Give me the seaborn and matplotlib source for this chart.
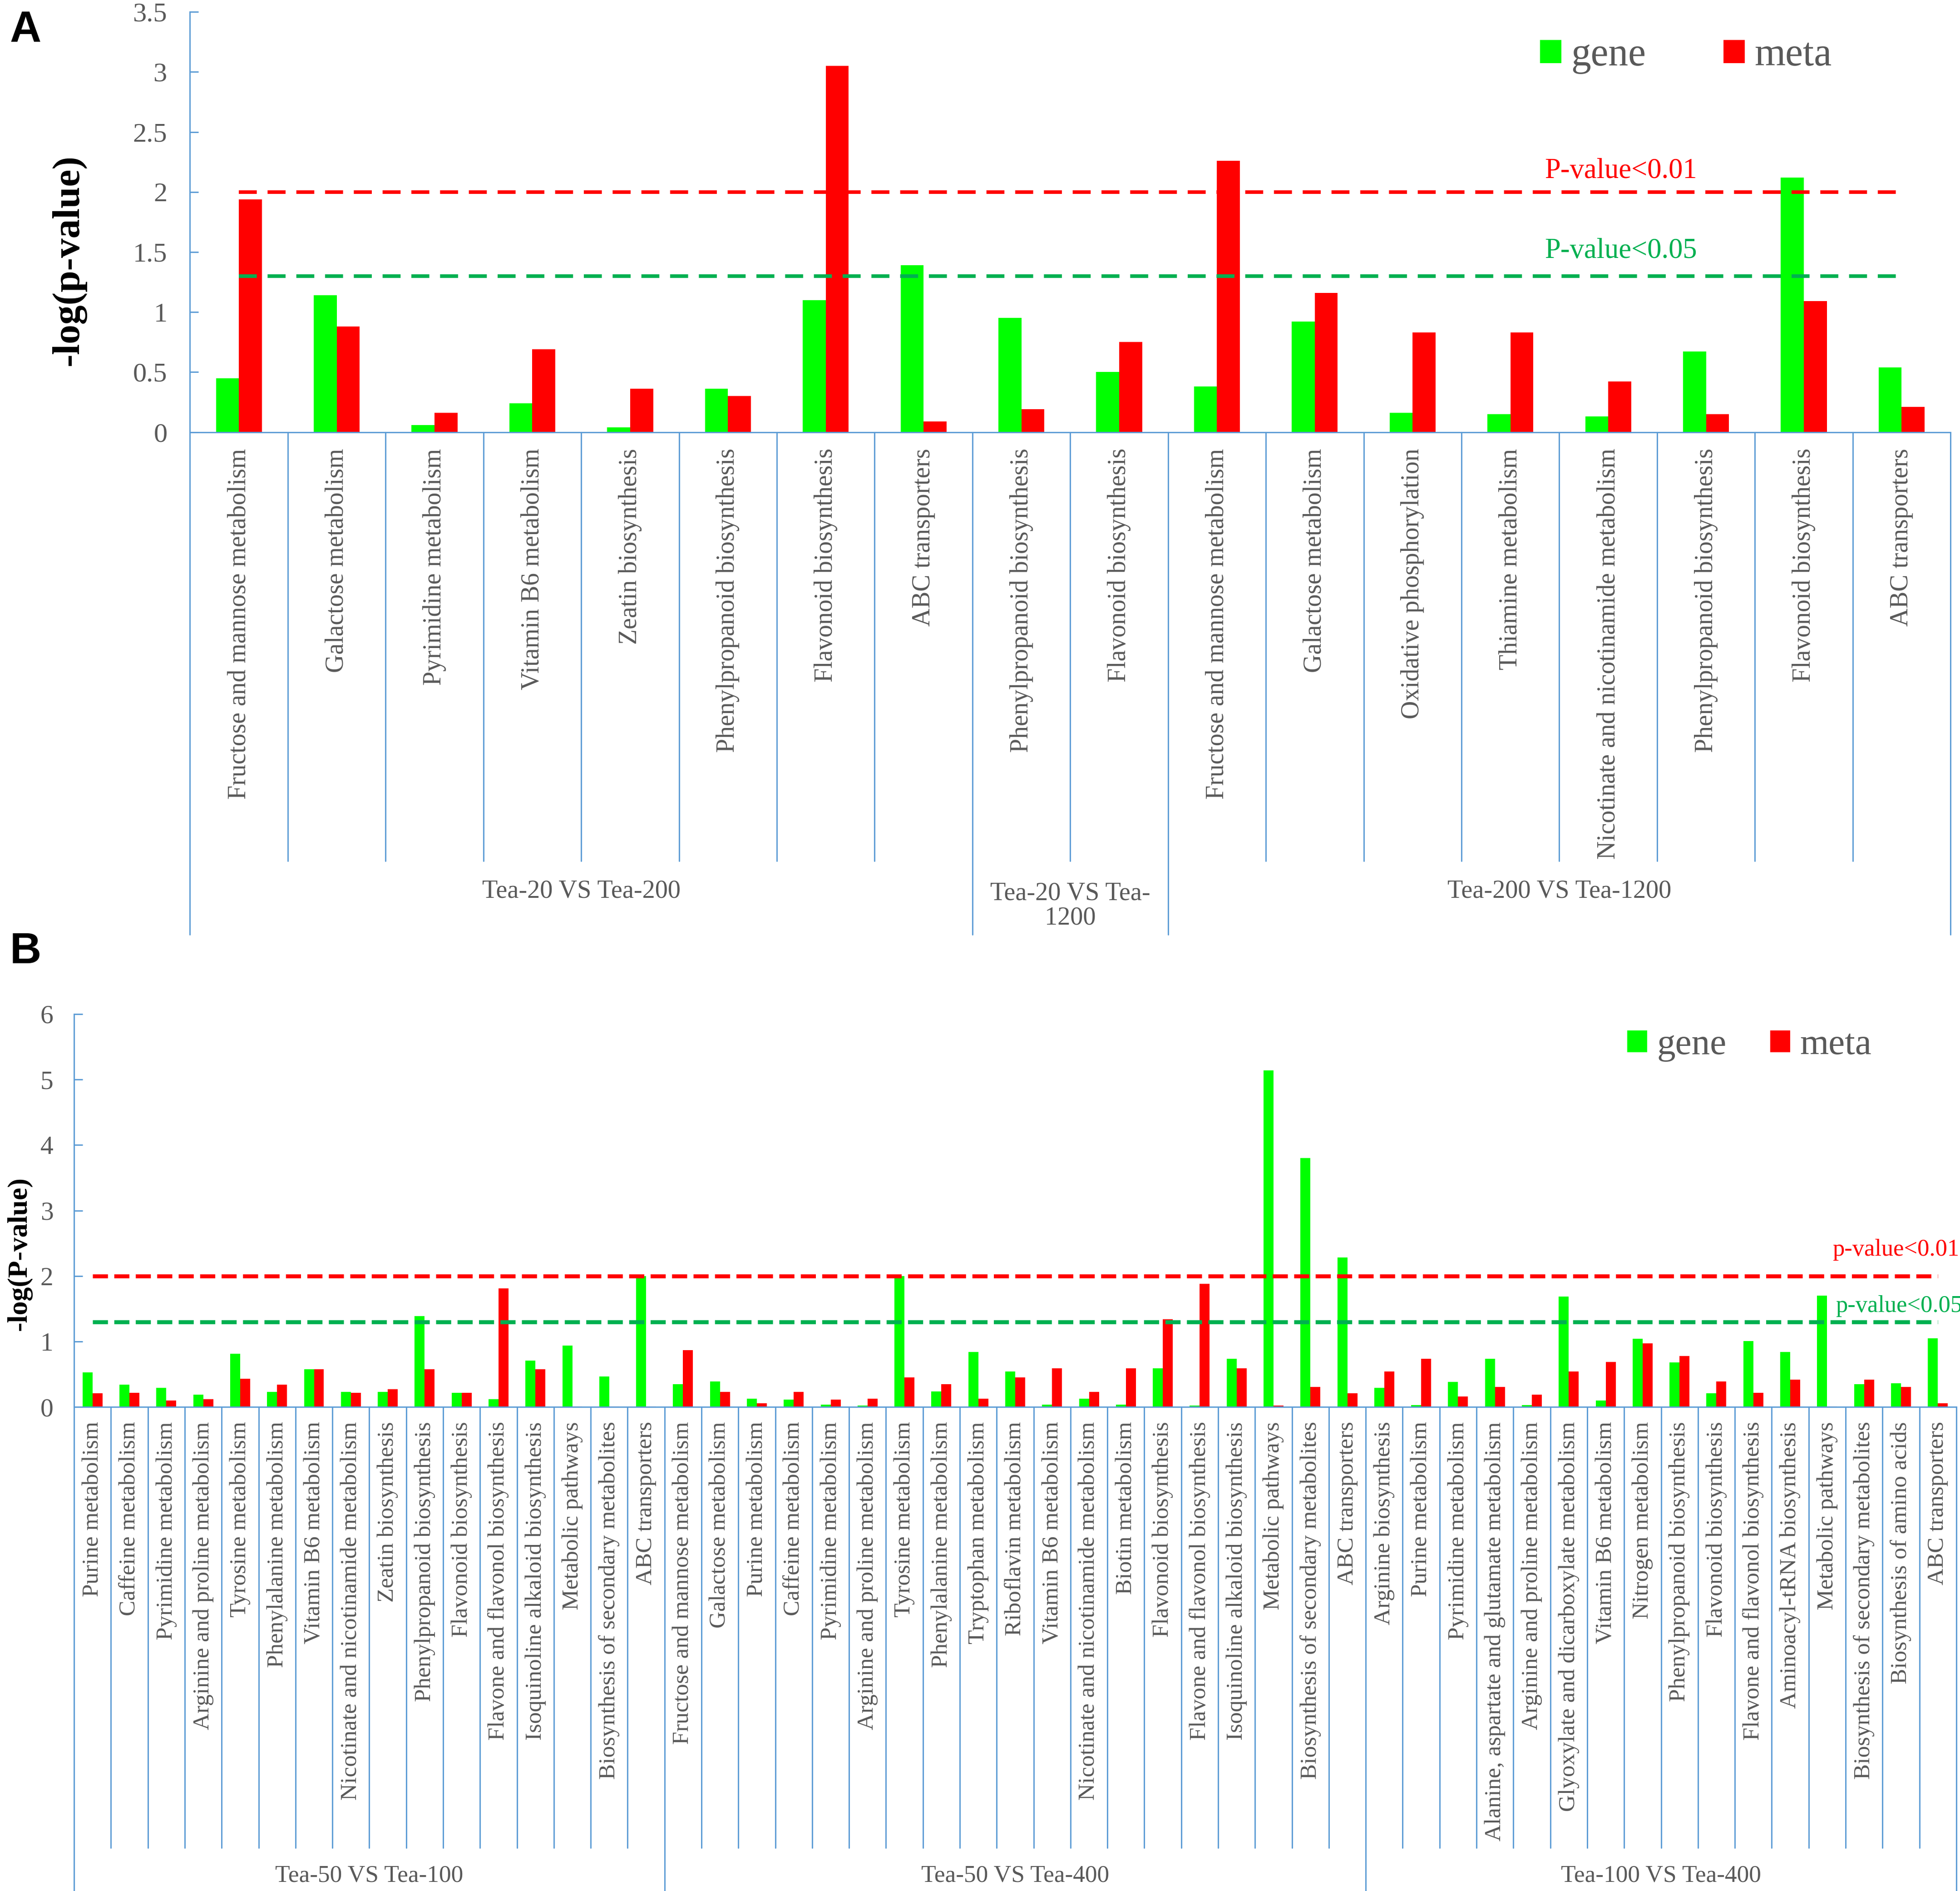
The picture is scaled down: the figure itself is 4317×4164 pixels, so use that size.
import numpy as np
import pandas as pd
import matplotlib
matplotlib.use("Agg")
import matplotlib.pyplot as plt
import matplotlib.transforms as mtransforms
from matplotlib.ticker import FuncFormatter
import seaborn as sns

# ---- panel A data ----
cats_a = [
    "Fructose and mannose metabolism", "Galactose metabolism", "Pyrimidine metabolism",
    "Vitamin B6 metabolism", "Zeatin biosynthesis", "Phenylpropanoid biosynthesis",
    "Flavonoid biosynthesis", "ABC transporters",
    "Phenylpropanoid biosynthesis", "Flavonoid biosynthesis",
    "Fructose and mannose metabolism", "Galactose metabolism", "Oxidative phosphorylation",
    "Thiamine metabolism", "Nicotinate and nicotinamide metabolism",
    "Phenylpropanoid biosynthesis", "Flavonoid biosynthesis", "ABC transporters",
]
gene_a = [0.45, 1.14, 0.06, 0.24, 0.04, 0.36, 1.10, 1.39,
          0.95, 0.50,
          0.38, 0.92, 0.16, 0.15, 0.13, 0.67, 2.12, 0.54]
meta_a = [1.94, 0.88, 0.16, 0.69, 0.36, 0.30, 3.05, 0.09,
          0.19, 0.75,
          2.26, 1.16, 0.83, 0.83, 0.42, 0.15, 1.09, 0.21]
groups_a = ["Tea-20 VS Tea-200", "Tea-20 VS Tea-\n1200", "Tea-200 VS Tea-1200"]
group_sizes_a = [8, 2, 8]

# ---- panel B data ----
cats_b = [
    # Tea-50 VS Tea-100
    "Purine metabolism", "Caffeine metabolism", "Pyrimidine metabolism",
    "Arginine and proline metabolism", "Tyrosine metabolism", "Phenylalanine metabolism",
    "Vitamin B6 metabolism", "Nicotinate and nicotinamide metabolism", "Zeatin biosynthesis",
    "Phenylpropanoid biosynthesis", "Flavonoid biosynthesis", "Flavone and flavonol biosynthesis",
    "Isoquinoline alkaloid biosynthesis", "Metabolic pathways",
    "Biosynthesis of secondary metabolites", "ABC transporters",
    # Tea-50 VS Tea-400
    "Fructose and mannose metabolism", "Galactose metabolism", "Purine metabolism",
    "Caffeine metabolism", "Pyrimidine metabolism", "Arginine and proline metabolism",
    "Tyrosine metabolism", "Phenylalanine metabolism", "Tryptophan metabolism",
    "Riboflavin metabolism", "Vitamin B6 metabolism", "Nicotinate and nicotinamide metabolism",
    "Biotin metabolism", "Flavonoid biosynthesis", "Flavone and flavonol biosynthesis",
    "Isoquinoline alkaloid biosynthesis", "Metabolic pathways",
    "Biosynthesis of secondary metabolites", "ABC transporters",
    # Tea-100 VS Tea-400
    "Arginine biosynthesis", "Purine metabolism", "Pyrimidine metabolism",
    "Alanine, aspartate and glutamate metabolism", "Arginine and proline metabolism",
    "Glyoxylate and dicarboxylate metabolism", "Vitamin B6 metabolism", "Nitrogen metabolism",
    "Phenylpropanoid biosynthesis", "Flavonoid biosynthesis", "Flavone and flavonol biosynthesis",
    "Aminoacyl-tRNA biosynthesis", "Metabolic pathways",
    "Biosynthesis of secondary metabolites", "Biosynthesis of amino acids", "ABC transporters",
]
gene_b = [0.53, 0.34, 0.29, 0.19, 0.81, 0.23, 0.58, 0.23, 0.23, 1.39, 0.22, 0.12, 0.71, 0.94, 0.47, 2.00,
          0.35, 0.39, 0.13, 0.11, 0.04, 0.02, 2.00, 0.24, 0.84, 0.54, 0.04, 0.13, 0.04, 0.59, 0.02, 0.74,
          5.14, 3.80, 2.28,
          0.29, 0.03, 0.38, 0.74, 0.03, 1.69, 0.10, 1.04, 0.68, 0.21, 1.01, 0.84, 1.70, 0.35, 0.36, 1.05]
meta_b = [0.21, 0.22, 0.10, 0.12, 0.43, 0.34, 0.58, 0.22, 0.27, 0.58, 0.22, 1.81, 0.58, 0.01, 0.01, 0.01,
          0.87, 0.23, 0.06, 0.23, 0.11, 0.13, 0.45, 0.35, 0.13, 0.45, 0.59, 0.23, 0.59, 1.34, 1.88, 0.59,
          0.02, 0.31, 0.21,
          0.54, 0.74, 0.16, 0.31, 0.19, 0.54, 0.69, 0.97, 0.78, 0.39, 0.22, 0.42, 0.01, 0.42, 0.31, 0.06]
groups_b = ["Tea-50 VS Tea-100", "Tea-50 VS Tea-400", "Tea-100 VS Tea-400"]
group_sizes_b = [16, 19, 16]

P01 = -np.log10(0.01)
P05 = -np.log10(0.05)

GREEN = "#00FF00"
RED = "#FF0000"
LINE_GREEN = "#00B050"
AXIS_C = "#5B9BD5"
TXT_C = "#595959"

sns.set_theme(style="white")
plt.rcParams["font.family"] = ["Liberation Serif", "DejaVu Serif"]


def to_long(cats, gene, meta):
    n = len(cats)
    return pd.DataFrame({
        "idx": list(range(n)) * 2,
        "source": ["gene"] * n + ["meta"] * n,
        "value": list(gene) + list(meta),
    })


def draw_panel(ax, fig, cats, gene, meta, groups, sizes, ymax, cfg):
    n = len(cats)
    df = to_long(cats, gene, meta)
    sns.barplot(data=df, x="idx", y="value", hue="source", hue_order=["gene", "meta"],
                palette={"gene": GREEN, "meta": RED}, width=cfg["bar_w"], errorbar=None,
                linewidth=0, saturation=1, ax=ax)
    ax.set_xlim(-0.5, n - 0.5)
    ax.set_ylim(0, ymax)
    ax.set_yticks(np.arange(0, ymax + 1e-9, cfg["ystep"]))
    ax.yaxis.set_major_formatter(FuncFormatter(lambda v, p: f"{v:g}"))
    ax.tick_params(axis="y", direction="in", length=4.5, width=0.7, color=AXIS_C,
                   labelsize=cfg["ytick_fs"], labelcolor=TXT_C, pad=cfg["ytick_pad"], left=True)
    ax.set_xticks(range(n))
    ax.set_xticklabels(cats, rotation=90, fontsize=cfg["cat_fs"], color=TXT_C)
    ax.tick_params(axis="x", length=0, pad=cfg["cat_pad"])
    ax.set_xlabel("")
    for side in ["top", "right"]:
        ax.spines[side].set_visible(False)
    for side in ["left", "bottom"]:
        ax.spines[side].set_color(AXIS_C)
        ax.spines[side].set_linewidth(0.7)

    # threshold lines
    ax.plot([0, n - 1], [P01, P01], color=RED, lw=cfg["dash_lw"], dashes=cfg["dashes"])
    ax.plot([0, n - 1], [P05, P05], color=LINE_GREEN, lw=cfg["dash_lw"], dashes=cfg["dashes"])
    ax.text(cfg["txt_x01"], cfg["txt_y01"], cfg["txt01"], color=RED, fontsize=cfg["pv_fs"],
            va="baseline", ha="left", clip_on=False)
    ax.text(cfg["txt_x05"], cfg["txt_y05"], cfg["txt05"], color=LINE_GREEN, fontsize=cfg["pv_fs"],
            va="baseline", ha="left", clip_on=False)

    # multi-level category axis separators
    trans = mtransforms.blended_transform_factory(ax.transData, ax.transAxes)
    bounds = np.cumsum([0] + sizes)
    for k in range(1, n):
        if k in bounds:
            continue
        ax.plot([k - 0.5, k - 0.5], [0, -cfg["short_len"]], transform=trans,
                color=AXIS_C, lw=0.7, clip_on=False)
    for b in bounds:
        ax.plot([b - 0.5, b - 0.5], [0, -cfg["long_len"]], transform=trans,
                color=AXIS_C, lw=0.7, clip_on=False)
    for g, lab in enumerate(groups):
        xc = (bounds[g] + bounds[g + 1] - 1) / 2
        nl = lab.count("\n") + 1
        yc = -cfg["grp_y"] - 0.5 * (nl - 1) * cfg["grp_step"]
        ax.text(xc, yc, lab, transform=trans, ha="center", va="center",
                fontsize=cfg["grp_fs"], color=TXT_C, linespacing=1.05, clip_on=False)

    # legend
    sns.move_legend(ax, "center left", bbox_to_anchor=cfg["leg_xy"], bbox_transform=fig.transFigure,
                    ncol=2, title=None, frameon=False, fontsize=cfg["leg_fs"], labelcolor=TXT_C,
                    handlelength=0.54, handleheight=0.53, handletextpad=cfg["leg_pad"],
                    columnspacing=cfg["leg_col"], borderpad=0, borderaxespad=0)

    ax.set_ylabel("")
    fig.text(cfg["ylab_xy"][0], cfg["ylab_xy"][1], cfg["ylabel"], fontsize=cfg["ylab_fs"],
             fontweight="bold", color="black", rotation=90, ha="center", va="center")


fig = plt.figure(figsize=(4317 / 300, 4164 / 300), dpi=300)
ax_a = fig.add_axes([0.09694, 0.77149, 0.99516 - 0.09694, 0.22224])
ax_b = fig.add_axes([0.03780, 0.25593, 0.99810 - 0.03780, 0.20783])

cfg_a = dict(bar_w=0.47, ystep=0.5, ytick_fs=14.5, ytick_pad=12, cat_fs=13.4, cat_pad=8.6,
             dash_lw=1.9, dashes=(5.0, 3.0),
             txt01="P-value<0.01", txt05="P-value<0.05", pv_fs=15,
             txt_x01=13.35, txt_y01=2.116, txt_x05=13.35, txt_y05=1.452,
             short_len=1.0206, long_len=1.1952, grp_y=1.0920, grp_step=0.0702, grp_fs=13.5,
             leg_xy=(0.7857, 0.9705), leg_fs=21, leg_pad=0.24, leg_col=1.95,
             ylabel="-log(p-value)", ylab_fs=20.5, ylab_xy=(0.0350, 0.8626))
cfg_b = dict(bar_w=0.54, ystep=1, ytick_fs=13.8, ytick_pad=11, cat_fs=12.3, cat_pad=7.7,
             dash_lw=2.1, dashes=(3.8, 1.6),
             txt01="p-value<0.01", txt05="p-value<0.05", pv_fs=12.6,
             txt_x01=47.14, txt_y01=2.31, txt_x05=47.23, txt_y05=1.448,
             short_len=1.1212, long_len=1.2314, grp_y=1.1933, grp_step=0.075, grp_fs=12.8,
             leg_xy=(0.8302, 0.4472), leg_fs=19.5, leg_pad=0.27, leg_col=1.18,
             ylabel="-log(P-value)", ylab_fs=14.8, ylab_xy=(0.0098, 0.3370))

draw_panel(ax_a, fig, cats_a, gene_a, meta_a, groups_a, group_sizes_a, 3.5, cfg_a)
draw_panel(ax_b, fig, cats_b, gene_b, meta_b, groups_b, group_sizes_b, 6, cfg_b)

fig.text(0.0051, 0.9947, "A", fontsize=23, fontweight="bold", family="Liberation Sans",
         va="top", ha="left", color="black")
fig.text(0.0051, 0.5075, "B", fontsize=23, fontweight="bold", family="Liberation Sans",
         va="top", ha="left", color="black")

fig.savefig("out.png", dpi=300, facecolor="white")
